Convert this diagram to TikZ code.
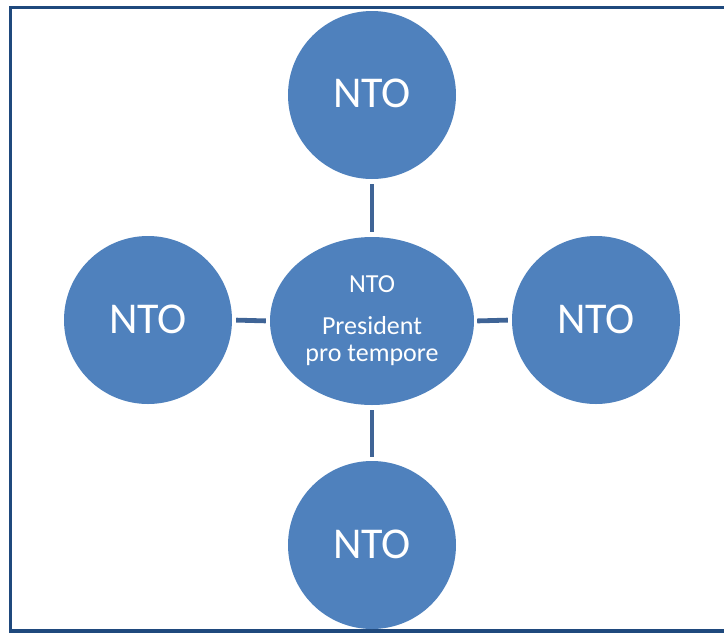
\documentclass[tikz,border=0pt]{standalone}
\usepackage{fontspec}
\setmainfont{Carlito}
\usetikzlibrary{shapes.geometric}
\definecolor{frameblue}{RGB}{31,73,125}
\definecolor{fillblue}{RGB}{79,129,189}
\definecolor{linkblue}{RGB}{63,100,150}
\tikzset{
  outer/.style={circle, fill=fillblue, minimum size=168pt, inner sep=0pt},
  hub/.style={ellipse, fill=fillblue, minimum width=204pt, minimum height=168pt, inner sep=0pt},
  bigtxt/.style={text=white, font=\fontsize{44}{44}\selectfont, anchor=base, inner sep=0pt},
  smalltxt/.style={text=white, font=\fontsize{26}{26}\selectfont, anchor=base, inner sep=0pt},
  link/.style={draw=linkblue, line width=4.8pt},
  frame/.style={draw=frameblue, line width=3.2pt}
}
\begin{document}
\begin{tikzpicture}[x=1pt,y=1pt]
\useasboundingbox (0,0) rectangle (724,-633);
\draw[frame] (10.5,-631) -- (10.5,-7.8) -- (730,-7.8);
\draw[frame] (9,-631) -- (730,-631);
\node[outer] (t) at (372,-95) {};
\node[outer] (l) at (148,-320) {};
\node[outer] (r) at (596,-320) {};
\node[outer] (b) at (372,-545) {};
\node[hub] (c) at (372,-321) {};
\node[bigtxt] (tt) at (372,-107) {NTO};
\node[bigtxt] (lt) at (148,-333) {NTO};
\node[bigtxt] (rt) at (596,-333) {NTO};
\node[bigtxt] (bt) at (372,-558) {NTO};
\node[smalltxt] (c1) at (372,-292.7) {NTO};
\node[smalltxt] (c2) at (372,-334) {President};
\node[smalltxt] (c3) at (372,-361.7) {pro tempore};
\draw[link, shorten <=5pt, shorten >=5pt] (t.south) -- (c.north);
\draw[link, shorten <=5pt, shorten >=4pt] (c.south) -- (b.north);
\draw[link, shorten <=4pt, shorten >=4pt] (l.east) -- (c.west);
\draw[link, shorten <=3pt, shorten >=4pt] (c.east) -- (r.west);
\end{tikzpicture}
\end{document}
